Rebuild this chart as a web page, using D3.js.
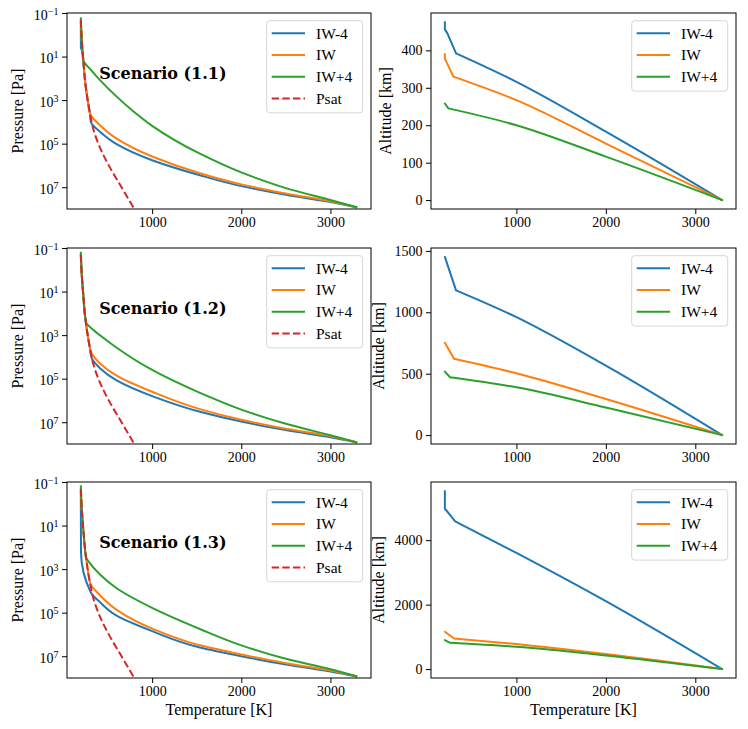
<!DOCTYPE html>
<html><head><meta charset="utf-8">
<script src="https://cdn.jsdelivr.net/npm/d3@7/dist/d3.min.js"></script>
<style>
body{margin:0;background:#fff}
</style>
</head><body>
<svg id="c" width="748" height="729" style="font-family:'Liberation Serif','Times New Roman',serif"></svg>
<script>
// ---------------- data ----------------
const seriesNames = ["IW-4", "IW", "IW+4"];
const seriesColors = ["#1f77b4", "#ff7f0e", "#2ca02c"];
const psatName = "Psat";
const psatColor = "#d62728";
const scenarioLabels = ["Scenario (1.1)", "Scenario (1.2)", "Scenario (1.3)"];
const tempTicks = [1000, 2000, 3000];
const pressureTicks = [1e-1, 1e1, 1e3, 1e5, 1e7];
const pressureDomain = [1e-1, 1e8];
const altitudeTicks = [[0, 100, 200, 300, 400], [0, 500, 1000, 1500], [0, 2000, 4000]];

// saturation pressure curve: temperature [K], log10 pressure [Pa]
const psatT =    [200, 210, 228, 250, 275, 300, 345, 415, 527, 639, 800];
const psatLogP = [-0.68, 0.2, 1.17, 2.2, 2.95, 3.55, 4.4, 5.18, 6.1, 6.88, 8.0];

// Scenario 1.1 pressure profiles (temperature [K], log10 pressure [Pa])
const p11_IWm4_T =    [200, 201, 216, 228, 250, 275, 300, 314, 415, 602, 1000, 1536, 2000, 2500, 3000, 3300];
const p11_IWm4_logP = [-0.6, 0.6, 0.75, 1.25, 2.2, 2.95, 3.55, 4.02, 4.45, 5.02, 5.76, 6.45, 6.95, 7.35, 7.68, 7.93];
const p11_IW_T =      [200, 210, 228, 250, 275, 303, 415, 602, 1000, 1536, 2000, 2500, 3000, 3300];
const p11_IW_logP =   [-0.68, 0.2, 1.17, 2.2, 2.95, 3.63, 4.15, 4.77, 5.59, 6.36, 6.87, 7.29, 7.65, 7.93];
const p11_IWp4_T =    [200, 210, 228, 303, 415, 602, 788, 1000, 1536, 2000, 2500, 3000, 3300];
const p11_IWp4_logP = [-0.8, 0.15, 1.17, 1.57, 2.08, 2.84, 3.51, 4.18, 5.46, 6.32, 7.04, 7.59, 7.92];

// Scenario 1.2 pressure profiles
const p12_IWm4_T =    [200, 210, 228, 250, 275, 300, 322, 415, 602, 1000, 1536, 2000, 2500, 3000, 3300];
const p12_IWm4_logP = [-0.7, 0.2, 1.17, 2.2, 2.95, 3.55, 4.06, 4.52, 5.08, 5.8, 6.52, 6.97, 7.36, 7.69, 7.93];
const p12_IW_T =      [200, 210, 228, 250, 275, 300, 310, 415, 602, 1000, 1536, 2000, 2500, 3000, 3300];
const p12_IW_logP =   [-0.7, 0.2, 1.17, 2.2, 2.95, 3.55, 3.75, 4.3, 4.86, 5.6, 6.4, 6.89, 7.3, 7.64, 7.93];
const p12_IWp4_T =    [200, 210, 228, 250, 262, 303, 415, 602, 1000, 1536, 2000, 2500, 3000, 3300];
const p12_IWp4_logP = [-0.83, 0.15, 1.17, 2.2, 2.45, 2.63, 3.01, 3.58, 4.6, 5.65, 6.42, 7.07, 7.6, 7.93];

// Scenario 1.3 pressure profiles
const p13_IWm4_T =    [200, 201, 202, 311, 415, 602, 1000, 1536, 2000, 2500, 3000, 3300];
const p13_IWm4_logP = [-0.6, 1.0, 2.22, 4.06, 4.52, 5.14, 5.85, 6.6, 7.0, 7.38, 7.7, 7.93];
const p13_IW_T =      [200, 210, 228, 250, 275, 305, 415, 602, 1000, 1536, 2000, 2500, 3000, 3300];
const p13_IW_logP =   [-0.7, 0.2, 1.17, 2.2, 2.95, 3.65, 4.2, 4.87, 5.73, 6.5, 6.92, 7.32, 7.66, 7.93];
const p13_IWp4_T =    [200, 210, 228, 250, 258, 303, 415, 602, 1000, 1536, 2000, 2500, 3000, 3300];
const p13_IWp4_logP = [-0.85, 0.15, 1.17, 2.2, 2.46, 2.74, 3.25, 3.88, 4.78, 5.75, 6.5, 7.12, 7.6, 7.93];

// altitude profiles: temperature [K], altitude [km]
const a11_IWm4_T = [200, 200, 227, 325, 1000, 2000, 3300];
const a11_IWm4_z = [476, 456, 446, 392, 316, 183, 0];
const a11_IW_T =   [200, 200, 295, 1000, 2000, 3300];
const a11_IW_z =   [390, 378, 330, 267, 151, 0];
const a11_IWp4_T = [200, 239, 1000, 2000, 3300];
const a11_IWp4_z = [258, 245, 200, 116, 0];

const a12_IWm4_T = [200, 325, 1000, 2000, 3300];
const a12_IWm4_z = [1451, 1179, 961, 566, 0];
const a12_IW_T =   [200, 303, 1000, 2000, 3300];
const a12_IW_z =   [751, 621, 503, 294, 0];
const a12_IWp4_T = [200, 258, 1000, 2000, 3300];
const a12_IWp4_z = [517, 471, 389, 225, 0];

const a13_IWm4_T = [200, 200, 313, 1000, 2000, 3300];
const a13_IWm4_z = [5529, 4983, 4589, 3607, 2108, 0];
const a13_IW_T =   [200, 303, 1000, 2000, 3300];
const a13_IW_z =   [1157, 951, 775, 465, 0];
const a13_IWp4_T = [200, 258, 1000, 2000, 3300];
const a13_IWp4_z = [899, 816, 692, 424, 0];

// index of the kink point where each altitude profile turns into its smooth lower branch
const altitudeKinkIndex = [[3, 2, 1], [1, 1, 1], [2, 1, 1]];

// ---------------- assemble ----------------
const zip = (xs, ys, f) => xs.map((x, i) => ({x, y: f ? f(ys[i]) : ys[i]}));
const toPa = v => Math.pow(10, v);
const psat = zip(psatT, psatLogP, toPa);
const pressureRows = [
  [zip(p11_IWm4_T, p11_IWm4_logP, toPa), zip(p11_IW_T, p11_IW_logP, toPa), zip(p11_IWp4_T, p11_IWp4_logP, toPa)],
  [zip(p12_IWm4_T, p12_IWm4_logP, toPa), zip(p12_IW_T, p12_IW_logP, toPa), zip(p12_IWp4_T, p12_IWp4_logP, toPa)],
  [zip(p13_IWm4_T, p13_IWm4_logP, toPa), zip(p13_IW_T, p13_IW_logP, toPa), zip(p13_IWp4_T, p13_IWp4_logP, toPa)]
];
const altitudeRows = [
  [zip(a11_IWm4_T, a11_IWm4_z), zip(a11_IW_T, a11_IW_z), zip(a11_IWp4_T, a11_IWp4_z)],
  [zip(a12_IWm4_T, a12_IWm4_z), zip(a12_IW_T, a12_IW_z), zip(a12_IWp4_T, a12_IWp4_z)],
  [zip(a13_IWm4_T, a13_IWm4_z), zip(a13_IW_T, a13_IW_z), zip(a13_IWp4_T, a13_IWp4_z)]
];

// ---------------- layout ----------------
const FONT = "'Liberation Serif','Times New Roman',serif";
const svg = d3.select("#c");
svg.append("rect").attr("width", 748).attr("height", 729).attr("fill", "#fff");
const colX = [67, 431], colW = [304, 305];
const rowY = [13, 248, 482], rowH = 196;
const defs = svg.append("defs");

function margin5(ext) { const p = (ext[1] - ext[0]) * 0.05; return [ext[0] - p, ext[1] + p]; }

function styleAxis(g) {
  g.select(".domain").remove();
  g.attr("font-family", null).attr("font-size", null);
  g.selectAll(".tick line").attr("stroke", "#000").attr("stroke-width", 1);
  g.selectAll(".tick text").style("font-size", "14px").style("font-family", FONT).attr("fill", "#000");
}

function legend(g, x0, w, top, items) {
  const bw = 96, rowStep = 21.7, bh = 27 + (items.length - 1) * rowStep;
  const lg = g.append("g").attr("transform", `translate(${x0 + w - 8.3 - bw},${top + 7.7})`);
  lg.append("rect").attr("width", bw).attr("height", bh).attr("rx", 3)
    .attr("fill", "#fff").attr("fill-opacity", 0.8)
    .attr("stroke", "#cccccc").attr("stroke-opacity", 0.8).attr("stroke-width", 1);
  items.forEach((it, i) => {
    const y = 12.6 + i * rowStep;
    lg.append("line").attr("x1", 5).attr("x2", 38.3).attr("y1", y).attr("y2", y)
      .attr("stroke", it.color).attr("stroke-width", 2)
      .attr("stroke-dasharray", it.dash || null);
    lg.append("text").attr("x", 49.3).attr("y", y).attr("dy", "0.35em")
      .style("font-size", "15.5px").style("font-family", FONT).text(it.name);
  });
}

function yLabel(g, axisG, x0, cy, text) {
  const bb = axisG.node().getBBox();
  g.append("text").attr("transform", `translate(${x0 + bb.x - 10.5},${cy}) rotate(-90)`)
    .attr("text-anchor", "middle").style("font-size", "16px").style("font-family", FONT).text(text);
}

const tDomain = margin5(d3.extent(altitudeRows.flat(2), d => d.x));

rowY.forEach((top, r) => {
  // ---------- left: pressure ----------
  {
    const x0 = colX[0], w = colW[0];
    const x = d3.scaleLinear().domain(tDomain).range([x0, x0 + w]);
    const y = d3.scaleLog().domain(pressureDomain).range([top, top + rowH]);
    const g = svg.append("g");
    const cid = "clipP" + r;
    defs.append("clipPath").attr("id", cid).append("rect")
      .attr("x", x0).attr("y", top).attr("width", w).attr("height", rowH);
    const plot = g.append("g").attr("clip-path", `url(#${cid})`);
    const line = d3.line().x(d => x(d.x)).y(d => y(d.y)).curve(d3.curveMonotoneY);
    pressureRows[r].forEach((s, i) => {
      plot.append("path").datum(s).attr("d", line).attr("fill", "none")
        .attr("stroke", seriesColors[i]).attr("stroke-width", 2).attr("stroke-linejoin", "round");
    });
    plot.append("path").datum(psat).attr("d", line).attr("fill", "none")
      .attr("stroke", psatColor).attr("stroke-width", 2).attr("stroke-dasharray", "7.4,3.2");

    const xa = g.append("g").attr("transform", `translate(0,${top + rowH})`)
      .call(d3.axisBottom(x).tickValues(tempTicks).tickSize(5).tickPadding(3.5).tickFormat(d3.format("d")));
    styleAxis(xa);
    const ya = g.append("g").attr("transform", `translate(${x0},0)`)
      .call(d3.axisLeft(y).tickValues(pressureTicks).tickSize(5).tickPadding(3.5));
    styleAxis(ya);
    ya.selectAll(".tick text").attr("dy", "0.45em").each(function(d) {
      const t = d3.select(this);
      const e = Math.round(Math.log10(d));
      t.text("10");
      t.append("tspan").attr("dy", "-0.5em").style("font-size", "10px")
        .text(e < 0 ? "\u2212" + (-e) : String(e));
    });
    g.append("rect").attr("x", x0).attr("y", top).attr("width", w).attr("height", rowH)
      .attr("fill", "none").attr("stroke", "#000").attr("stroke-width", 1);
    g.append("text").attr("x", x0 + 32.3).attr("y", top + 66)
      .style("font-family", "'DejaVu Serif', serif").style("font-weight", "bold")
      .style("font-size", "16px").text(scenarioLabels[r]);
    legend(g, x0, w, top, seriesNames.map((n, i) => ({name: n, color: seriesColors[i]}))
      .concat([{name: psatName, color: psatColor, dash: "7.4,3.2"}]));
    yLabel(g, ya, x0, top + rowH / 2, "Pressure [Pa]");
    if (r === 2) {
      g.append("text").attr("x", x0 + w / 2).attr("y", 715).attr("text-anchor", "middle")
        .style("font-size", "16px").style("font-family", FONT).text("Temperature [K]");
    }
  }
  // ---------- right: altitude ----------
  {
    const x0 = colX[1], w = colW[1];
    const x = d3.scaleLinear().domain(tDomain).range([x0, x0 + w]);
    const y = d3.scaleLinear().domain(margin5(d3.extent(altitudeRows[r].flat(), d => d.y)))
      .range([top + rowH, top]);
    const g = svg.append("g");
    const cid = "clipA" + r;
    defs.append("clipPath").attr("id", cid).append("rect")
      .attr("x", x0).attr("y", top).attr("width", w).attr("height", rowH);
    const plot = g.append("g").attr("clip-path", `url(#${cid})`);
    const head = d3.line().x(d => x(d.x)).y(d => y(d.y));
    const tail = d3.line().x(d => x(d.x)).y(d => y(d.y)).curve(d3.curveMonotoneX);
    altitudeRows[r].forEach((s, i) => {
      const k = altitudeKinkIndex[r][i];
      const d = head(s.slice(0, k + 1)) + "M" + tail(s.slice(k)).slice(1);
      plot.append("path").attr("d", d).attr("fill", "none")
        .attr("stroke", seriesColors[i]).attr("stroke-width", 2)
        .attr("stroke-linejoin", "round").attr("stroke-linecap", "round");
    });
    const xa = g.append("g").attr("transform", `translate(0,${top + rowH})`)
      .call(d3.axisBottom(x).tickValues(tempTicks).tickSize(5).tickPadding(3.5).tickFormat(d3.format("d")));
    styleAxis(xa);
    const ya = g.append("g").attr("transform", `translate(${x0},0)`)
      .call(d3.axisLeft(y).tickValues(altitudeTicks[r]).tickSize(5).tickPadding(3.5).tickFormat(d3.format("d")));
    styleAxis(ya);
    g.append("rect").attr("x", x0).attr("y", top).attr("width", w).attr("height", rowH)
      .attr("fill", "none").attr("stroke", "#000").attr("stroke-width", 1);
    legend(g, x0, w, top, seriesNames.map((n, i) => ({name: n, color: seriesColors[i]})));
    yLabel(g, ya, x0, top + rowH / 2, "Altitude [km]");
    if (r === 2) {
      g.append("text").attr("x", x0 + w / 2).attr("y", 715).attr("text-anchor", "middle")
        .style("font-size", "16px").style("font-family", FONT).text("Temperature [K]");
    }
  }
});
</script>
</body></html>
